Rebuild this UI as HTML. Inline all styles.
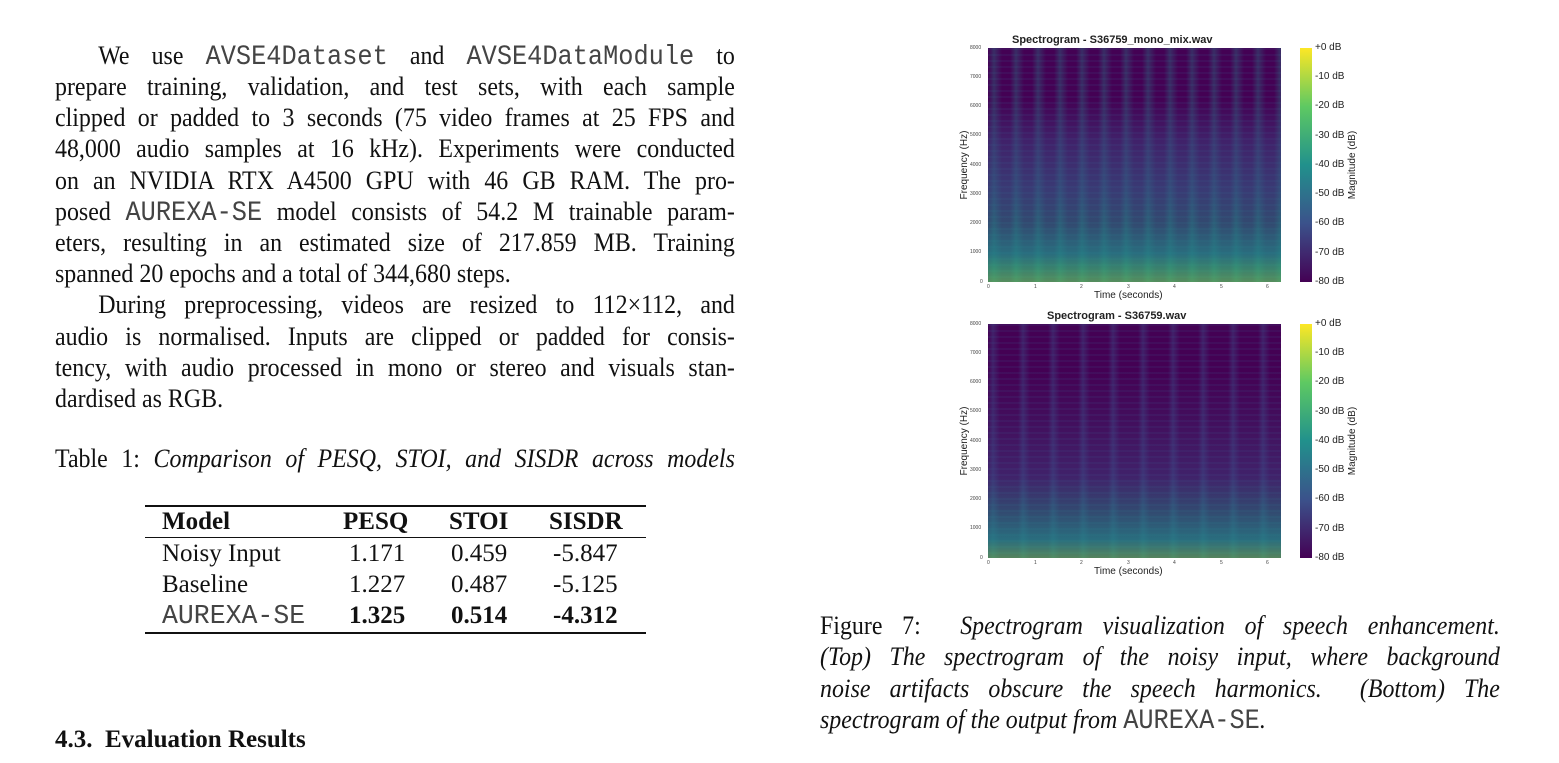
<!DOCTYPE html>
<html><head><meta charset="utf-8"><style>
body{margin:0;width:1559px;height:763px;background:#fff;position:relative;overflow:hidden;font-family:"Liberation Serif",serif;color:#111}
.l{position:absolute;left:55px;width:739px;height:31px;line-height:31px;font-size:26px;text-align:justify;text-align-last:justify;transform:scaleX(0.92);transform-origin:0 0;white-space:nowrap}
.l.n{text-align-last:left}
.r{position:absolute;left:820px;width:739px;height:31px;line-height:31px;font-size:26px;text-align:justify;text-align-last:justify;transform:scaleX(0.92);transform-origin:0 0;white-space:nowrap;font-style:italic}
.m{font-family:"Liberation Mono",monospace;font-size:27.5px;font-style:normal;color:#444}
.t{position:absolute;font-size:25px;line-height:31px}
.b{font-weight:bold}
.rule{position:absolute;left:145px;width:501px;background:#111}
.plot{position:absolute;left:988px;width:293px;height:234px;background:#440154;overflow:hidden}
.cb{position:absolute;left:1300px;width:12px;height:234px;background:linear-gradient(#fde725,#5ec962 25%,#21918c 50%,#3b528b 75%,#440154)}
.sm{position:absolute;font-family:"Liberation Sans","DejaVu Sans",sans-serif;font-size:10px;color:#222;white-space:nowrap}
.rot{position:absolute;width:100px;text-align:center;font-family:"Liberation Sans","DejaVu Sans",sans-serif;font-size:10px;color:#222;transform:rotate(-90deg);height:12px;line-height:12px}
.tk{position:absolute;font-family:"Liberation Sans",sans-serif;font-size:5px;color:#444}
</style></head><body>
<div class="l" style="top:40px;text-indent:47px">We use <span class="m">AVSE4Dataset</span> and <span class="m">AVSE4DataModule</span> to</div>
<div class="l" style="top:71px">prepare training, validation, and test sets, with each sample</div>
<div class="l" style="top:102px">clipped or padded to 3 seconds (75 video frames at 25 FPS and</div>
<div class="l" style="top:133px">48,000 audio samples at 16 kHz). Experiments were conducted</div>
<div class="l" style="top:165px">on an NVIDIA RTX A4500 GPU with 46 GB RAM. The pro-</div>
<div class="l" style="top:196px">posed <span class="m">AUREXA-SE</span> model consists of 54.2 M trainable param-</div>
<div class="l" style="top:227px">eters, resulting in an estimated size of 217.859 MB. Training</div>
<div class="l n" style="top:258px">spanned 20 epochs and a total of 344,680 steps.</div>
<div class="l" style="top:289px;text-indent:47px">During preprocessing, videos are resized to 112×112, and</div>
<div class="l" style="top:321px">audio is normalised. Inputs are clipped or padded for consis-</div>
<div class="l" style="top:352px">tency, with audio processed in mono or stereo and visuals stan-</div>
<div class="l n" style="top:383px">dardised as RGB.</div>
<div class="l" style="top:443px">Table 1: <i>Comparison of PESQ, STOI, and SISDR across models</i></div>

<div class="rule" style="top:505px;height:1.5px"></div>
<div class="rule" style="top:537px;height:1px"></div>
<div class="rule" style="top:632px;height:1.5px"></div>
<div class="t b" style="left:162px;top:506px">Model</div>
<div class="t b" style="left:343px;top:506px">PESQ</div>
<div class="t b" style="left:449px;top:506px">STOI</div>
<div class="t b" style="left:549px;top:506px">SISDR</div>
<div class="t" style="left:162px;top:538px">Noisy Input</div>
<div class="t" style="left:349px;top:538px">1.171</div>
<div class="t" style="left:451px;top:538px">0.459</div>
<div class="t" style="left:553px;top:538px">-5.847</div>
<div class="t" style="left:162px;top:569px">Baseline</div>
<div class="t" style="left:349px;top:569px">1.227</div>
<div class="t" style="left:451px;top:569px">0.487</div>
<div class="t" style="left:553px;top:569px">-5.125</div>
<div class="t" style="left:162px;top:600px"><span class="m" style="font-size:26.5px">AUREXA-SE</span></div>
<div class="t b" style="left:349px;top:600px">1.325</div>
<div class="t b" style="left:451px;top:600px">0.514</div>
<div class="t b" style="left:553px;top:600px">-4.312</div>

<div class="t b" style="left:55px;top:724px;font-size:25px">4.3.&nbsp; Evaluation Results</div>

<div class="sm" style="left:1012px;top:34px;font-weight:bold;font-size:11px">Spectrogram - S36759_mono_mix.wav</div>
<div class="plot" style="top:48px;background:
linear-gradient(to top,rgba(94,201,98,.7) 0%,rgba(53,183,121,.7) 6%,rgba(33,145,140,.75) 12%,rgba(33,145,140,.5) 25%,rgba(49,104,142,.55) 40%,rgba(59,82,139,.4) 60%,rgba(68,1,84,0) 78%),
repeating-linear-gradient(to right,rgba(33,145,140,0) 0,rgba(33,145,140,.3) 6px,rgba(33,145,140,0) 14px,rgba(68,1,84,0) 22px),
repeating-linear-gradient(to bottom,rgba(59,82,139,.15) 0 2px,rgba(68,1,84,0) 2px 6px),#440154"></div>
<div class="cb" style="top:48px"></div>
<div class="sm" style="left:1047px;top:310px;font-weight:bold;font-size:11px">Spectrogram - S36759.wav</div>
<div class="plot" style="top:324px;background:
linear-gradient(to top,rgba(94,201,98,.65) 0%,rgba(33,145,140,.75) 8%,rgba(33,145,140,.5) 20%,rgba(59,82,139,.4) 35%,rgba(59,82,139,.15) 60%,rgba(68,1,84,0) 80%),
repeating-linear-gradient(to right,rgba(59,82,139,0) 0,rgba(59,82,139,.4) 5px,rgba(59,82,139,0) 12px,rgba(68,1,84,0) 30px),
repeating-linear-gradient(to bottom,rgba(59,82,139,.15) 0 2px,rgba(68,1,84,0) 2px 6px),#440154"></div>
<div class="cb" style="top:324px"></div>

<div class="sm" style="left:1094px;top:290px">Time (seconds)</div>
<div class="sm" style="left:1094px;top:566px">Time (seconds)</div>
<div class="rot" style="left:915px;top:159px">Frequency (Hz)</div>
<div class="rot" style="left:915px;top:435px">Frequency (Hz)</div>
<div class="rot" style="left:1303px;top:159px">Magnitude (dB)</div>
<div class="rot" style="left:1303px;top:435px">Magnitude (dB)</div>

<div class="sm" style="left:1315px;top:42px">+0 dB</div><div class="sm" style="left:1315px;top:71px">-10 dB</div><div class="sm" style="left:1315px;top:100px">-20 dB</div><div class="sm" style="left:1315px;top:130px">-30 dB</div><div class="sm" style="left:1315px;top:159px">-40 dB</div><div class="sm" style="left:1315px;top:188px">-50 dB</div><div class="sm" style="left:1315px;top:217px">-60 dB</div><div class="sm" style="left:1315px;top:247px">-70 dB</div><div class="sm" style="left:1315px;top:276px">-80 dB</div>
<div class="sm" style="left:1315px;top:318px">+0 dB</div><div class="sm" style="left:1315px;top:347px">-10 dB</div><div class="sm" style="left:1315px;top:376px">-20 dB</div><div class="sm" style="left:1315px;top:406px">-30 dB</div><div class="sm" style="left:1315px;top:435px">-40 dB</div><div class="sm" style="left:1315px;top:464px">-50 dB</div><div class="sm" style="left:1315px;top:493px">-60 dB</div><div class="sm" style="left:1315px;top:523px">-70 dB</div><div class="sm" style="left:1315px;top:552px">-80 dB</div>

<div class="tk" style="left:970px;top:45px">8000</div><div class="tk" style="left:970px;top:74px">7000</div><div class="tk" style="left:970px;top:103px">6000</div><div class="tk" style="left:970px;top:132px">5000</div><div class="tk" style="left:970px;top:162px">4000</div><div class="tk" style="left:970px;top:191px">3000</div><div class="tk" style="left:970px;top:220px">2000</div><div class="tk" style="left:970px;top:249px">1000</div><div class="tk" style="left:980px;top:279px">0</div>
<div class="tk" style="left:970px;top:321px">8000</div><div class="tk" style="left:970px;top:350px">7000</div><div class="tk" style="left:970px;top:379px">6000</div><div class="tk" style="left:970px;top:408px">5000</div><div class="tk" style="left:970px;top:438px">4000</div><div class="tk" style="left:970px;top:467px">3000</div><div class="tk" style="left:970px;top:496px">2000</div><div class="tk" style="left:970px;top:525px">1000</div><div class="tk" style="left:980px;top:555px">0</div>
<div class="tk" style="left:987px;top:284px">0</div><div class="tk" style="left:1034px;top:284px">1</div><div class="tk" style="left:1080px;top:284px">2</div><div class="tk" style="left:1127px;top:284px">3</div><div class="tk" style="left:1173px;top:284px">4</div><div class="tk" style="left:1220px;top:284px">5</div><div class="tk" style="left:1266px;top:284px">6</div>
<div class="tk" style="left:987px;top:560px">0</div><div class="tk" style="left:1034px;top:560px">1</div><div class="tk" style="left:1080px;top:560px">2</div><div class="tk" style="left:1127px;top:560px">3</div><div class="tk" style="left:1173px;top:560px">4</div><div class="tk" style="left:1220px;top:560px">5</div><div class="tk" style="left:1266px;top:560px">6</div>

<div class="r" style="top:610px"><span style="font-style:normal">Figure 7:&nbsp; </span>Spectrogram visualization of speech enhancement.</div>
<div class="r" style="top:641px">(Top) The spectrogram of the noisy input, where background</div>
<div class="r" style="top:673px">noise artifacts obscure the speech harmonics. &nbsp;(Bottom) The</div>
<div class="r" style="top:704px;text-align-last:left">spectrogram of the output from <span class="m">AUREXA-SE</span>.</div>
</body></html>
